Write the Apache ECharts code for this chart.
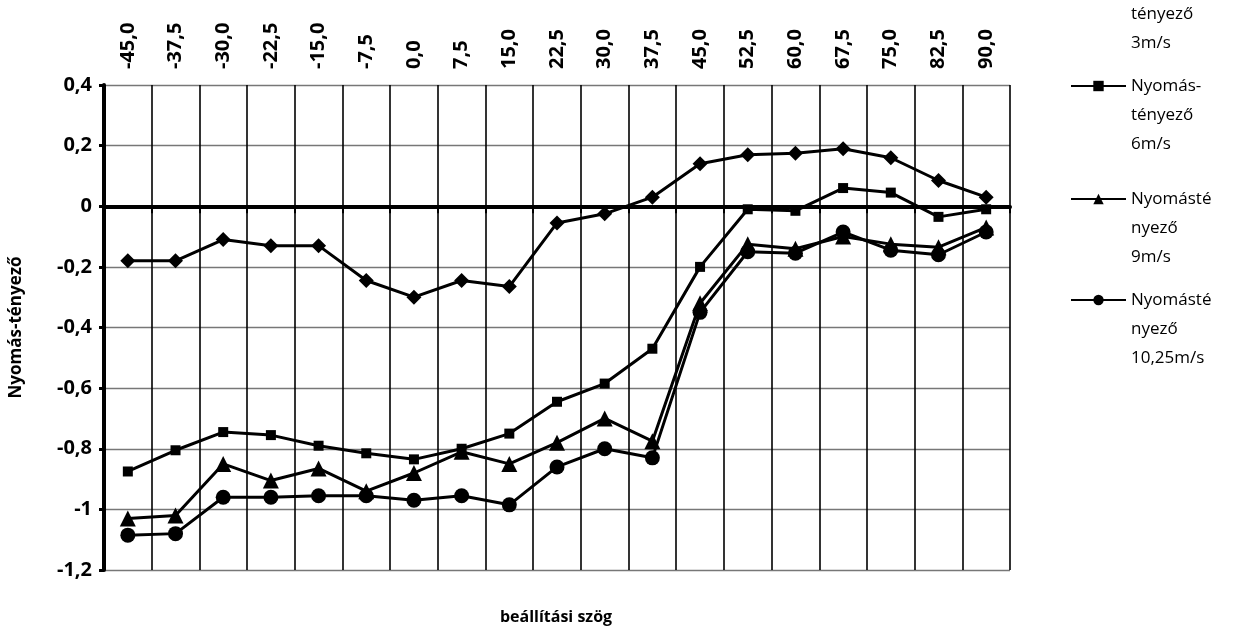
<!DOCTYPE html>
<html>
<head>
<meta charset="utf-8">
<script src="https://cdn.jsdelivr.net/npm/echarts@6/dist/echarts.min.js"></script>
<style>html,body{margin:0;padding:0;background:#fff}#c{width:1240px;height:632px}</style>
</head>
<body>
<div id="c"></div>
<script>
const categories = ["-45,0","-37,5","-30,0","-22,5","-15,0","-7,5","0,0","7,5","15,0","22,5","30,0","37,5","45,0","52,5","60,0","67,5","75,0","82,5","90,0"];
const v3 = [-0.18,-0.18,-0.11,-0.13,-0.13,-0.245,-0.30,-0.245,-0.265,-0.055,-0.025,0.03,0.14,0.17,0.175,0.19,0.16,0.085,0.03];
const v6 = [-0.875,-0.805,-0.745,-0.755,-0.79,-0.815,-0.835,-0.80,-0.75,-0.645,-0.585,-0.47,-0.20,-0.01,-0.015,0.06,0.045,-0.035,-0.01];
const v9 = [-1.03,-1.02,-0.85,-0.905,-0.865,-0.94,-0.88,-0.81,-0.85,-0.78,-0.70,-0.775,-0.32,-0.125,-0.14,-0.10,-0.125,-0.135,-0.07];
const v1025 = [-1.085,-1.08,-0.96,-0.96,-0.955,-0.955,-0.97,-0.955,-0.985,-0.86,-0.80,-0.83,-0.35,-0.15,-0.155,-0.085,-0.145,-0.16,-0.085];
const seriesNames = ["Nyomás-tényező 3m/s","Nyomás-tényező 6m/s","Nyomásté nyező 9m/s","Nyomásté nyező 10,25m/s"];
const legendLines = [["Nyomás-","tényező","3m/s"],["Nyomás-","tényező","6m/s"],["Nyomásté","nyező","9m/s"],["Nyomásté","nyező","10,25m/s"]];
const yAxisTitle = "Nyomás-tényező";
const xAxisTitle = "beállítási szög";

const FONT = "'Open Sans', 'DejaVu Sans', sans-serif";
const fmt = v => String(Math.round(v * 10) / 10).replace('.', ',');
const legendCenters = [-15, 86, 199, 300];
const LH = 29;

const chart = echarts.init(document.getElementById('c'), null, {renderer: 'canvas'});
const symbols = ['diamond', 'rect', 'triangle', 'circle'];
const sizes = [15, 10, 16, 15];
const dataArr = [v3, v6, v9, v1025];

const option = {
  animation: false,
  backgroundColor: '#fff',
  grid: {left: 103, right: 230, top: 85, bottom: 62, containLabel: false},
  xAxis: [
    {
      type: 'category', data: categories, position: 'top', boundaryGap: true,
      axisLine: {show: false}, axisTick: {show: false}, splitLine: {show: false},
      axisLabel: {rotate: 90, margin: 16, fontSize: 20, fontWeight: 'bold', color: '#000', fontFamily: FONT, interval: 0}
    },
    {
      type: 'category', data: categories, position: 'bottom', boundaryGap: true,
      axisLine: {show: true, onZero: true, onZeroAxisIndex: 0, lineStyle: {color: '#000', width: 4}},
      axisTick: {show: true, length: 7, lineStyle: {color: '#000', width: 2}},
      axisLabel: {show: false},
      splitLine: {show: true, lineStyle: {color: '#000', width: 1.6}}
    }
  ],
  yAxis: {
    type: 'value', min: -1.2, max: 0.4, interval: 0.2,
    axisLine: {show: true, lineStyle: {color: '#000', width: 4}},
    axisTick: {show: true, length: 5, lineStyle: {color: '#000', width: 3}},
    axisLabel: {formatter: fmt, fontSize: 20, fontWeight: 'bold', color: '#000', fontFamily: FONT, margin: 12},
    splitLine: {show: true, lineStyle: {color: '#777', width: 1.3}},
    name: yAxisTitle, nameLocation: 'middle', nameGap: 79,
    nameTextStyle: {fontSize: 17, fontWeight: 'bold', color: '#000', fontFamily: FONT}
  },
  legend: seriesNames.map((n, i) => ({
    data: [n], orient: 'vertical', left: 1070, top: legendCenters[i] - (5 * LH) / 2,
    padding: 0, itemWidth: 55, itemHeight: 13,
    formatter: () => '\n\n' + legendLines[i].join('\n'),
    textStyle: {fontSize: 17, lineHeight: LH, color: '#000', fontFamily: FONT}
  })),
  graphic: [{
    type: 'text', x: 556, y: 617,
    style: {text: xAxisTitle, font: "bold 16px " + FONT, fill: '#000', textAlign: 'center', textVerticalAlign: 'middle'}
  }],
  series: seriesNames.map((n, i) => ({
    name: n, type: 'line', data: dataArr[i], xAxisIndex: 0,
    symbol: symbols[i], symbolSize: sizes[i], showAllSymbol: true,
    lineStyle: {color: '#000', width: 3}, itemStyle: {color: '#000'}, z: 5
  }))
};
chart.setOption(option);
</script>
</body>
</html>
